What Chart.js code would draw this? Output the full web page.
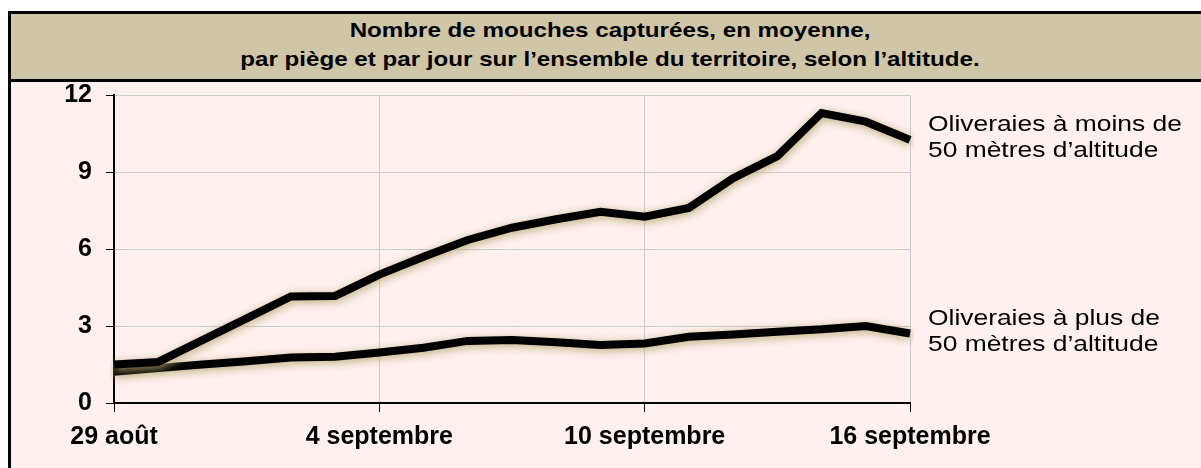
<!DOCTYPE html>
<html><head><meta charset="utf-8">
<script src="https://cdn.jsdelivr.net/npm/chart.js@4"></script>
<style>
html,body{margin:0;padding:0;width:1201px;height:468px;overflow:hidden;background:#fff;}
#frame{position:absolute;left:8px;top:11px;width:1300px;height:500px;border-left:3px solid #000;border-top:3px solid #000;background:#FDF0EF;box-sizing:border-box;}
#band{position:absolute;left:0;top:0;width:100%;height:68px;background:#CFC6A7;border-bottom:3px solid #000;box-sizing:border-box;}
.tl{position:absolute;left:0;width:1198px;text-align:center;font-family:"Liberation Sans",Arial,sans-serif;font-weight:bold;font-size:21px;line-height:21px;color:#000;white-space:nowrap;transform:scaleX(1.15);transform-origin:599px 0;}
#chart{position:absolute;left:0;top:82px;}
</style></head>
<body>
<div id="frame"><div id="band">
<div class="tl" id="t1" style="top:5px"></div>
<div class="tl" id="t2" style="top:34px"></div>
</div></div>
<canvas id="chart" width="1201" height="386"></canvas>
<script>
const titleLines = ["Nombre de mouches capturées, en moyenne,", "par piège et par jour sur l’ensemble du territoire, selon l’altitude."];
const days = ["29 août","30 août","31 août","1 septembre","2 septembre","3 septembre","4 septembre","5 septembre","6 septembre","7 septembre","8 septembre","9 septembre","10 septembre","11 septembre","12 septembre","13 septembre","14 septembre","15 septembre","16 septembre"];
const below50 = [1.5, 1.6, 2.45, 3.3, 4.15, 4.17, 5.0, 5.7, 6.35, 6.83, 7.16, 7.45, 7.26, 7.6, 8.76, 9.62, 11.3, 10.96, 10.25];
const above50 = [1.22, 1.36, 1.5, 1.63, 1.77, 1.8, 1.97, 2.15, 2.42, 2.45, 2.37, 2.26, 2.32, 2.58, 2.67, 2.78, 2.87, 3.0, 2.71];
const seriesLabels = [["Oliveraies à moins de","50 mètres d’altitude"],["Oliveraies à plus de","50 mètres d’altitude"]];
const yTicks = [0, 3, 6, 9, 12];

document.getElementById('t1').textContent = titleLines[0];
document.getElementById('t2').textContent = titleLines[1];

const FONT = '"Liberation Sans", Arial, sans-serif';
const gridColor = '#CBCBCB';

const glow = {
  id: 'glow',
  beforeDatasetDraw(chart) { const c = chart.ctx; c.save(); c.shadowColor = 'rgba(185,170,115,0.95)'; c.shadowBlur = 8; c.shadowOffsetX = 1; c.shadowOffsetY = 2; },
  afterDatasetDraw(chart) { chart.ctx.restore(); }
};
const endLabels = {
  id: 'endLabels',
  afterDatasetsDraw(chart) {
    const c = chart.ctx;
    c.save();
    c.font = '22px ' + FONT;
    c.fillStyle = '#000';
    c.textBaseline = 'middle';
    c.textAlign = 'left';
    chart.data.datasets.forEach((ds, i) => {
      const meta = chart.getDatasetMeta(i);
      const last = meta.data[meta.data.length - 1];
      const lines = seriesLabels[i];
      const lh = 26;
      const x = chart.chartArea.right + 18;
      const y0 = last.y - 2 - (lines.length - 1) * lh / 2;
      lines.forEach((t, k) => {
        c.save();
        c.translate(x, y0 + k * lh);
        c.scale(1.2, 1);
        c.fillText(t, 0, 0);
        c.restore();
      });
    });
    c.restore();
  }
};

new Chart(document.getElementById('chart'), {
  type: 'line',
  data: {
    labels: days,
    datasets: [
      { data: below50, borderColor: '#000', borderWidth: 8, pointRadius: 0, tension: 0, fill: false },
      { data: above50, borderColor: '#000', borderWidth: 8, pointRadius: 0, tension: 0, fill: false }
    ]
  },
  options: {
    responsive: false,
    animation: false,
    devicePixelRatio: 1,
    layout: { padding: { top: 13, right: 291, bottom: 0, left: 0 } },
    plugins: { legend: { display: false }, tooltip: { enabled: false }, title: { display: false } },
    scales: {
      x: {
        type: 'category',
        offset: false,
        grid: { color: gridColor, tickColor: '#000', tickLength: 9, lineWidth: 1 },
        border: { color: '#000', width: 2 },
        ticks: {
          autoSkip: false, maxRotation: 0, minRotation: 0, padding: 10,
          color: '#000', font: { family: FONT, size: 25, weight: 'bold' },
          callback: (v, i) => (i % 6 === 0 ? days[i] : null)
        },
        afterFit: s => { s.height = 65; }
      },
      y: {
        min: yTicks[0], max: yTicks[yTicks.length - 1],
        grid: { color: gridColor, tickColor: '#000', tickLength: 8, lineWidth: 1 },
        border: { color: '#000', width: 2 },
        ticks: { stepSize: 3, padding: 14, color: '#000', font: { family: FONT, size: 25, weight: 'bold', lineHeight: 1 } },
        afterFit: s => { s.width = 114; s.paddingTop = 0; s.paddingBottom = 0; }
      }
    }
  },
  plugins: [glow, endLabels]
});
</script>
</body></html>
